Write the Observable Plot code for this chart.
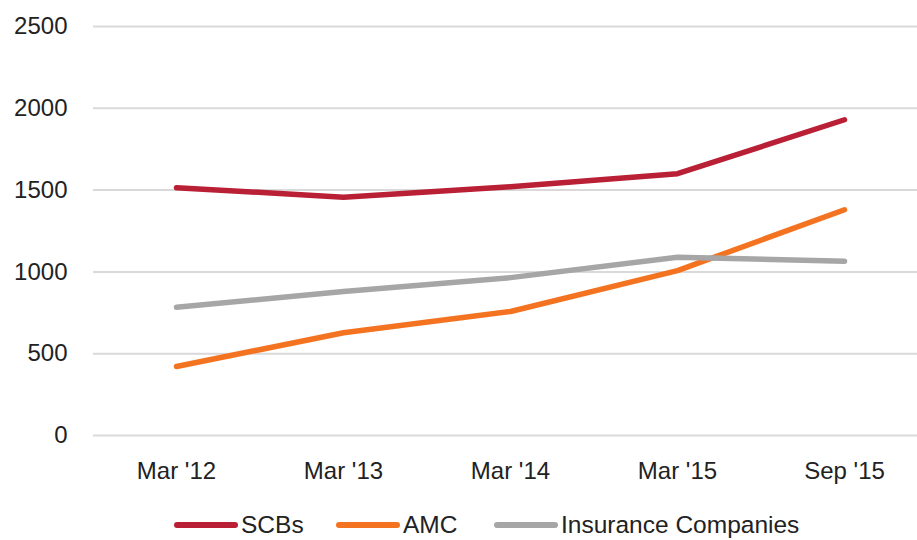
<!DOCTYPE html>
<html>
<head>
<meta charset="utf-8">
<script src="https://cdn.jsdelivr.net/npm/d3@7"></script>
<script src="https://cdn.jsdelivr.net/npm/@observablehq/plot@0.6"></script>
<style>
  body { margin: 0; background: #fff; font-family: "Liberation Sans", Arial, sans-serif; overflow: hidden; }
  #chart svg { display: block; }
  #legend { position: relative; height: 28px; margin-top: -6px; }
  .item { position: absolute; top: 0; display: flex; align-items: center; font-size: 24.5px; color: #222; line-height: 28px; }
  .sw { width: 64px; height: 6px; border-radius: 3px; margin-right: 3px; }
</style>
</head>
<body>
<div id="chart"></div>
<div id="legend"></div>
<script>
const periods = ["Mar '12", "Mar '13", "Mar '14", "Mar '15", "Sep '15"];
const seriesNames = ["SCBs", "AMC", "Insurance Companies"];
const colors = ["#b91f35", "#f47321", "#a6a6a6"];
const scbs = [1515, 1457, 1520, 1600, 1930];
const amc = [422, 628, 758, 1008, 1380];
const insurance = [784, 880, 965, 1090, 1065];
const yTicks = [0, 500, 1000, 1500, 2000, 2500];

const allSeries = [scbs, amc, insurance];
const data = [];
seriesNames.forEach((s, i) => periods.forEach((p, j) => data.push({series: s, period: p, value: allSeries[i][j]})));

const chart = Plot.plot({
  width: 917,
  height: 517,
  marginLeft: 93,
  marginRight: 0,
  marginTop: 26,
  marginBottom: 82,
  style: {fontFamily: "Liberation Sans, Arial, sans-serif", fontSize: "24px", color: "#222", background: "#fff"},
  x: {type: "point", domain: periods, range: [176, 844], padding: 0, label: null},
  y: {domain: [0, 2500], label: null},
  color: {domain: seriesNames, range: colors},
  marks: [
    Plot.ruleY(yTicks, {stroke: "#d9d9d9", strokeWidth: 2}),
    Plot.axisY({ticks: yTicks, tickFormat: "d", tickSize: 0, tickPadding: 26, fontSize: 24, label: null}),
    Plot.axisX({tickSize: 0, tickPadding: 26, fontSize: 24, label: null}),
    Plot.line(data, {x: "period", y: "value", z: "series", stroke: "series", strokeWidth: 5.5, strokeLinecap: "round", strokeLinejoin: "round"})
  ]
});
document.getElementById("chart").appendChild(chart);

const legend = document.getElementById("legend");
const lefts = [174, 336, 494];
seriesNames.forEach((s, i) => {
  const it = document.createElement("div");
  it.className = "item";
  it.style.left = lefts[i] + "px";
  const sw = document.createElement("div");
  sw.className = "sw";
  sw.style.background = colors[i];
  it.appendChild(sw);
  const t = document.createElement("span");
  t.textContent = s;
  it.appendChild(t);
  legend.appendChild(it);
});
</script>
</body>
</html>
